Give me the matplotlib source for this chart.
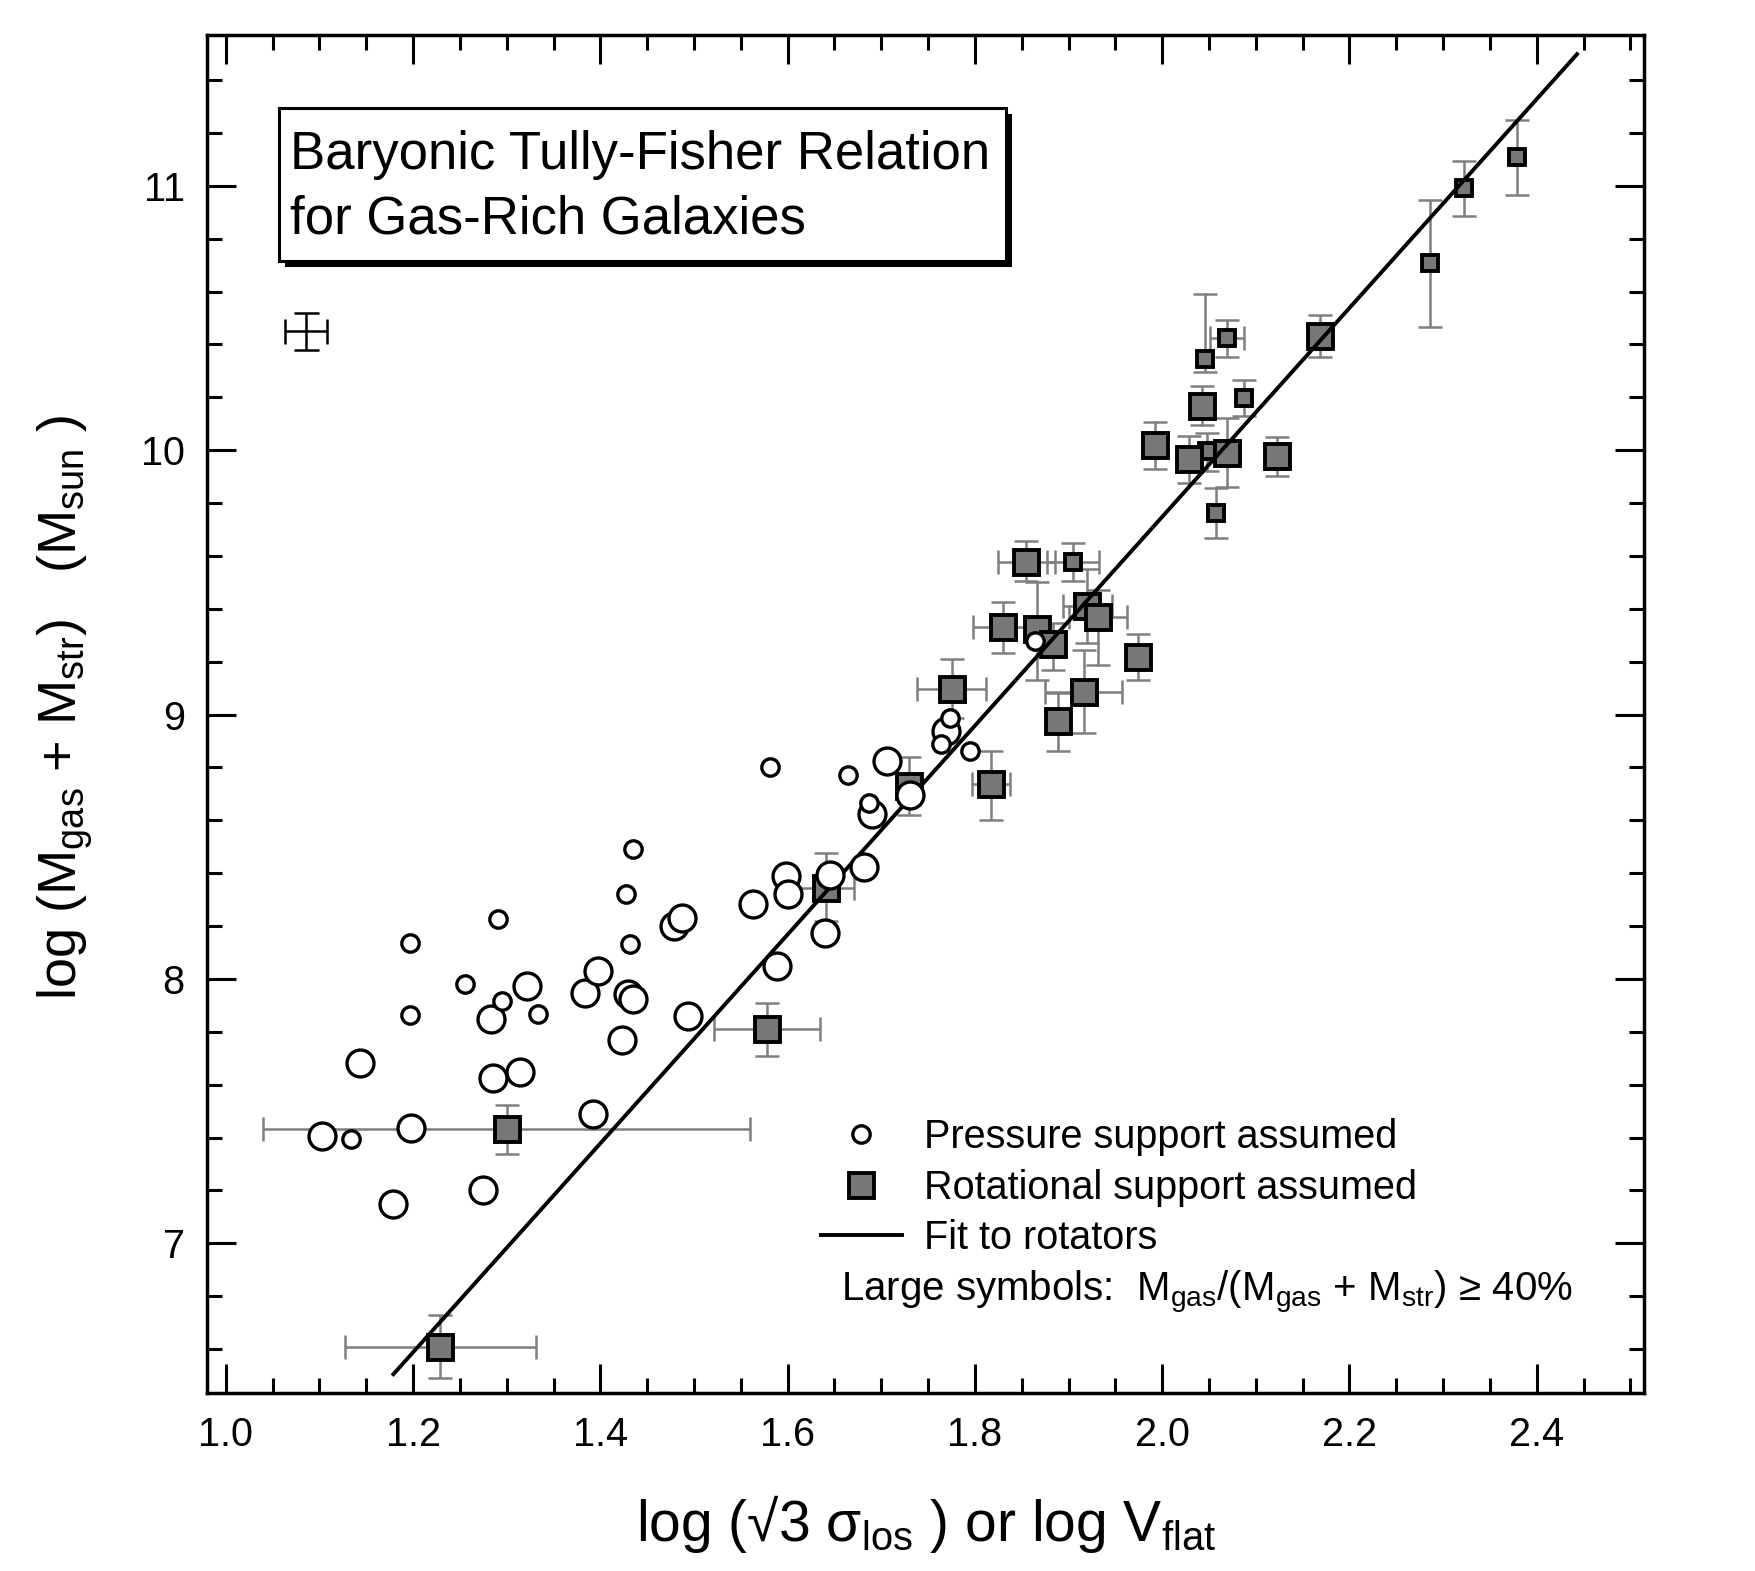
import numpy as np
import matplotlib
matplotlib.use("Agg")
import matplotlib.pyplot as plt
from matplotlib.patches import Rectangle
from matplotlib.ticker import MultipleLocator

plt.rcParams['font.family'] = ['Liberation Sans', 'DejaVu Sans']
plt.rcParams['mathtext.fontset'] = 'custom'
plt.rcParams['mathtext.rm'] = 'Liberation Sans'

# pressure supported (open circles), large = gas fraction >= 40%
press_big_x = [1.103, 1.198, 1.143, 1.283, 1.322, 1.285, 1.314, 1.392, 1.384, 1.397,
               1.430, 1.435, 1.423, 1.479, 1.487, 1.494, 1.563, 1.589, 1.598, 1.600,
               1.640, 1.645, 1.682, 1.690, 1.706, 1.731, 1.769, 1.179, 1.275]
press_big_y = [7.406, 7.435, 7.683, 7.847, 7.973, 7.627, 7.649, 7.488, 7.945, 8.030,
               7.942, 7.925, 7.768, 8.200, 8.229, 7.860, 8.282, 8.049, 8.389, 8.322,
               8.172, 8.393, 8.424, 8.622, 8.824, 8.694, 8.937, 7.150, 7.200]
press_small_x = [1.134, 1.197, 1.197, 1.291, 1.255, 1.295, 1.333, 1.432, 1.427, 1.435,
                 1.581, 1.664, 1.687, 1.773, 1.764, 1.795, 1.864]
press_small_y = [7.394, 7.862, 8.137, 8.225, 7.980, 7.916, 7.866, 8.133, 8.322, 8.490,
                 8.801, 8.773, 8.666, 8.988, 8.887, 8.864, 9.280]

# rotators (grey squares)
rot_big_x = [2.169, 2.042, 1.992, 2.029, 2.069, 2.123, 1.855, 1.920, 1.931, 1.830, 1.866,
             1.883, 1.974, 1.916, 1.889, 1.775, 1.817, 1.730, 1.641, 1.578, 1.300, 1.229]
rot_big_y = [10.431, 10.166, 10.021, 9.965, 9.990, 9.977, 9.576, 9.410, 9.370, 9.330, 9.322,
             9.267, 9.217, 9.086, 8.975, 9.095, 8.736, 8.730, 8.345, 7.809, 7.431, 6.609]
rot_big_xerr = [0, 0, 0, 0, 0, 0, 0.030, 0.026, 0.031, 0.032, 0,
                0, 0, 0.041, 0, 0.037, 0.020, 0, 0.030, 0.057, 0.260, 0.102]
rot_big_ylo = [0.080, 0.072, 0.091, 0.089, 0.130, 0.073, 0.072, 0.140, 0.183, 0.097, 0.192,
               0.097, 0.087, 0.155, 0.113, 0.107, 0.133, 0.110, 0.126, 0.100, 0.094, 0.119]
rot_big_yhi = [0.080, 0.076, 0.086, 0.090, 0.132, 0.073, 0.080, 0.140, 0.100, 0.095, 0.179,
               0.080, 0.086, 0.160, 0.107, 0.116, 0.128, 0.110, 0.132, 0.100, 0.091, 0.120]

rot_small_x = [2.379, 2.322, 2.286, 2.069, 2.046, 2.087, 2.048, 2.057, 1.905]
rot_small_y = [11.107, 10.991, 10.708, 10.424, 10.346, 10.197, 9.996, 9.763, 9.576]
rot_small_xerr = [0, 0, 0, 0.018, 0, 0, 0, 0, 0.028]
rot_small_ylo = [0.143, 0.105, 0.241, 0.073, 0.050, 0.069, 0.076, 0.097, 0.069]
rot_small_yhi = [0.143, 0.101, 0.238, 0.070, 0.245, 0.070, 0.069, 0.094, 0.073]

# fit to rotators
fit_slope = 3.95
fit_intercept = 1.848
fit_x = np.array([1.179, 2.443])

# typical error bar shown top left
typ_x, typ_y, typ_xerr, typ_yerr = 1.0855, 10.449, 0.0227, 0.069

fig = plt.figure(figsize=(17.55, 15.71), dpi=100)
ax = fig.add_axes([0.118, 0.113, 0.819, 0.865])

grey = '#7f7f7f'
ebkw = dict(fmt='none', ecolor=grey, elinewidth=1.8, capsize=8.5, capthick=1.8, zorder=2)

for xs, ys, xe, lo, hi in [(rot_big_x, rot_big_y, rot_big_xerr, rot_big_ylo, rot_big_yhi),
                           (rot_small_x, rot_small_y, rot_small_xerr, rot_small_ylo, rot_small_yhi)]:
    xs, ys, xe = np.array(xs), np.array(ys), np.array(xe)
    ax.errorbar(xs, ys, yerr=[lo, hi], **ebkw)
    m = xe > 0
    ax.errorbar(xs[m], ys[m], xerr=xe[m], **ebkw)

sq_small, = ax.plot(rot_small_x, rot_small_y, 's', ms=11.8, mfc='#777777', mec='black', mew=2.8, zorder=3)
sq_big, = ax.plot(rot_big_x, rot_big_y, 's', ms=18, mfc='#777777', mec='black', mew=2.8, zorder=3)

fit_line, = ax.plot(fit_x, fit_slope * fit_x + fit_intercept, color='black', lw=2.8, zorder=4)

c_big, = ax.plot(press_big_x, press_big_y, 'o', ms=19.4, mfc='white', mec='black', mew=2.4, zorder=5)
c_small, = ax.plot(press_small_x, press_small_y, 'o', ms=12.5, mfc='white', mec='black', mew=2.4, zorder=5)

ax.errorbar([typ_x], [typ_y], xerr=typ_xerr, yerr=typ_yerr, fmt='none', ecolor='black',
            elinewidth=1.8, capsize=9, capthick=1.8, zorder=5)

ax.set_xlim(0.98, 2.515)
ax.set_ylim(6.432, 11.572)
ax.xaxis.set_major_locator(MultipleLocator(0.2))
ax.xaxis.set_minor_locator(MultipleLocator(0.05))
ax.yaxis.set_major_locator(MultipleLocator(1))
ax.yaxis.set_minor_locator(MultipleLocator(0.2))
ax.xaxis.set_major_formatter(plt.FuncFormatter(lambda v, p: f'{v:.1f}'))
ax.yaxis.set_major_formatter(plt.FuncFormatter(lambda v, p: f'{v:.0f}'))
ax.tick_params(which='both', direction='in', top=True, right=True, width=2.2, labelsize=28.5, pad=16)
ax.tick_params(which='major', length=21)
ax.tick_params(which='minor', length=11)
for s in ax.spines.values():
    s.set_linewidth(2.5)

ax.set_xlabel(r'log (√3 $\mathregular{σ_{los}}$ ) or log $\mathregular{V_{flat}}$', fontsize=41)
ax.set_ylabel(r'log ($\mathregular{M_{gas}}$ + $\mathregular{M_{str}}$)   ($\mathregular{M_{sun}}$ )', fontsize=39)
ax.xaxis.set_label_coords(0.5, -0.073)
ax.yaxis.set_label_coords(-0.078, 0.505)

# title box with drop shadow
bx, by, bw, bh = 0.0498, 0.8337, 0.5062, 0.1123
ax.add_patch(Rectangle((bx + 0.0042, by - 0.0045), bw, bh, transform=ax.transAxes,
                       facecolor='black', edgecolor='black', lw=0, zorder=6))
ax.add_patch(Rectangle((bx, by), bw, bh, transform=ax.transAxes,
                       facecolor='white', edgecolor='black', lw=2.2, zorder=7))
ax.text(0.058, 0.9012, 'Baryonic Tully-Fisher Relation', transform=ax.transAxes,
        fontsize=38, va='baseline', ha='left', zorder=8)
ax.text(0.058, 0.8539, 'for Gas-Rich Galaxies', transform=ax.transAxes,
        fontsize=38, va='baseline', ha='left', zorder=8)

ax.legend([c_small, sq_big, fit_line],
          ['Pressure support assumed', 'Rotational support assumed', 'Fit to rotators'],
          loc='upper left', bbox_to_anchor=(0.427, 0.2025), frameon=False, fontsize=28.5,
          numpoints=1, handlelength=2.05, handletextpad=0.56, labelspacing=0.31,
          borderpad=0, borderaxespad=0)
ax.text(0.441, 0.0675,
        r'Large symbols:  $\mathregular{M_{gas}}$/($\mathregular{M_{gas}}$ + $\mathregular{M_{str}}$) ≥ 40%',
        transform=ax.transAxes, fontsize=29, va='baseline', ha='left')

fig.savefig('out.png', dpi=100)
